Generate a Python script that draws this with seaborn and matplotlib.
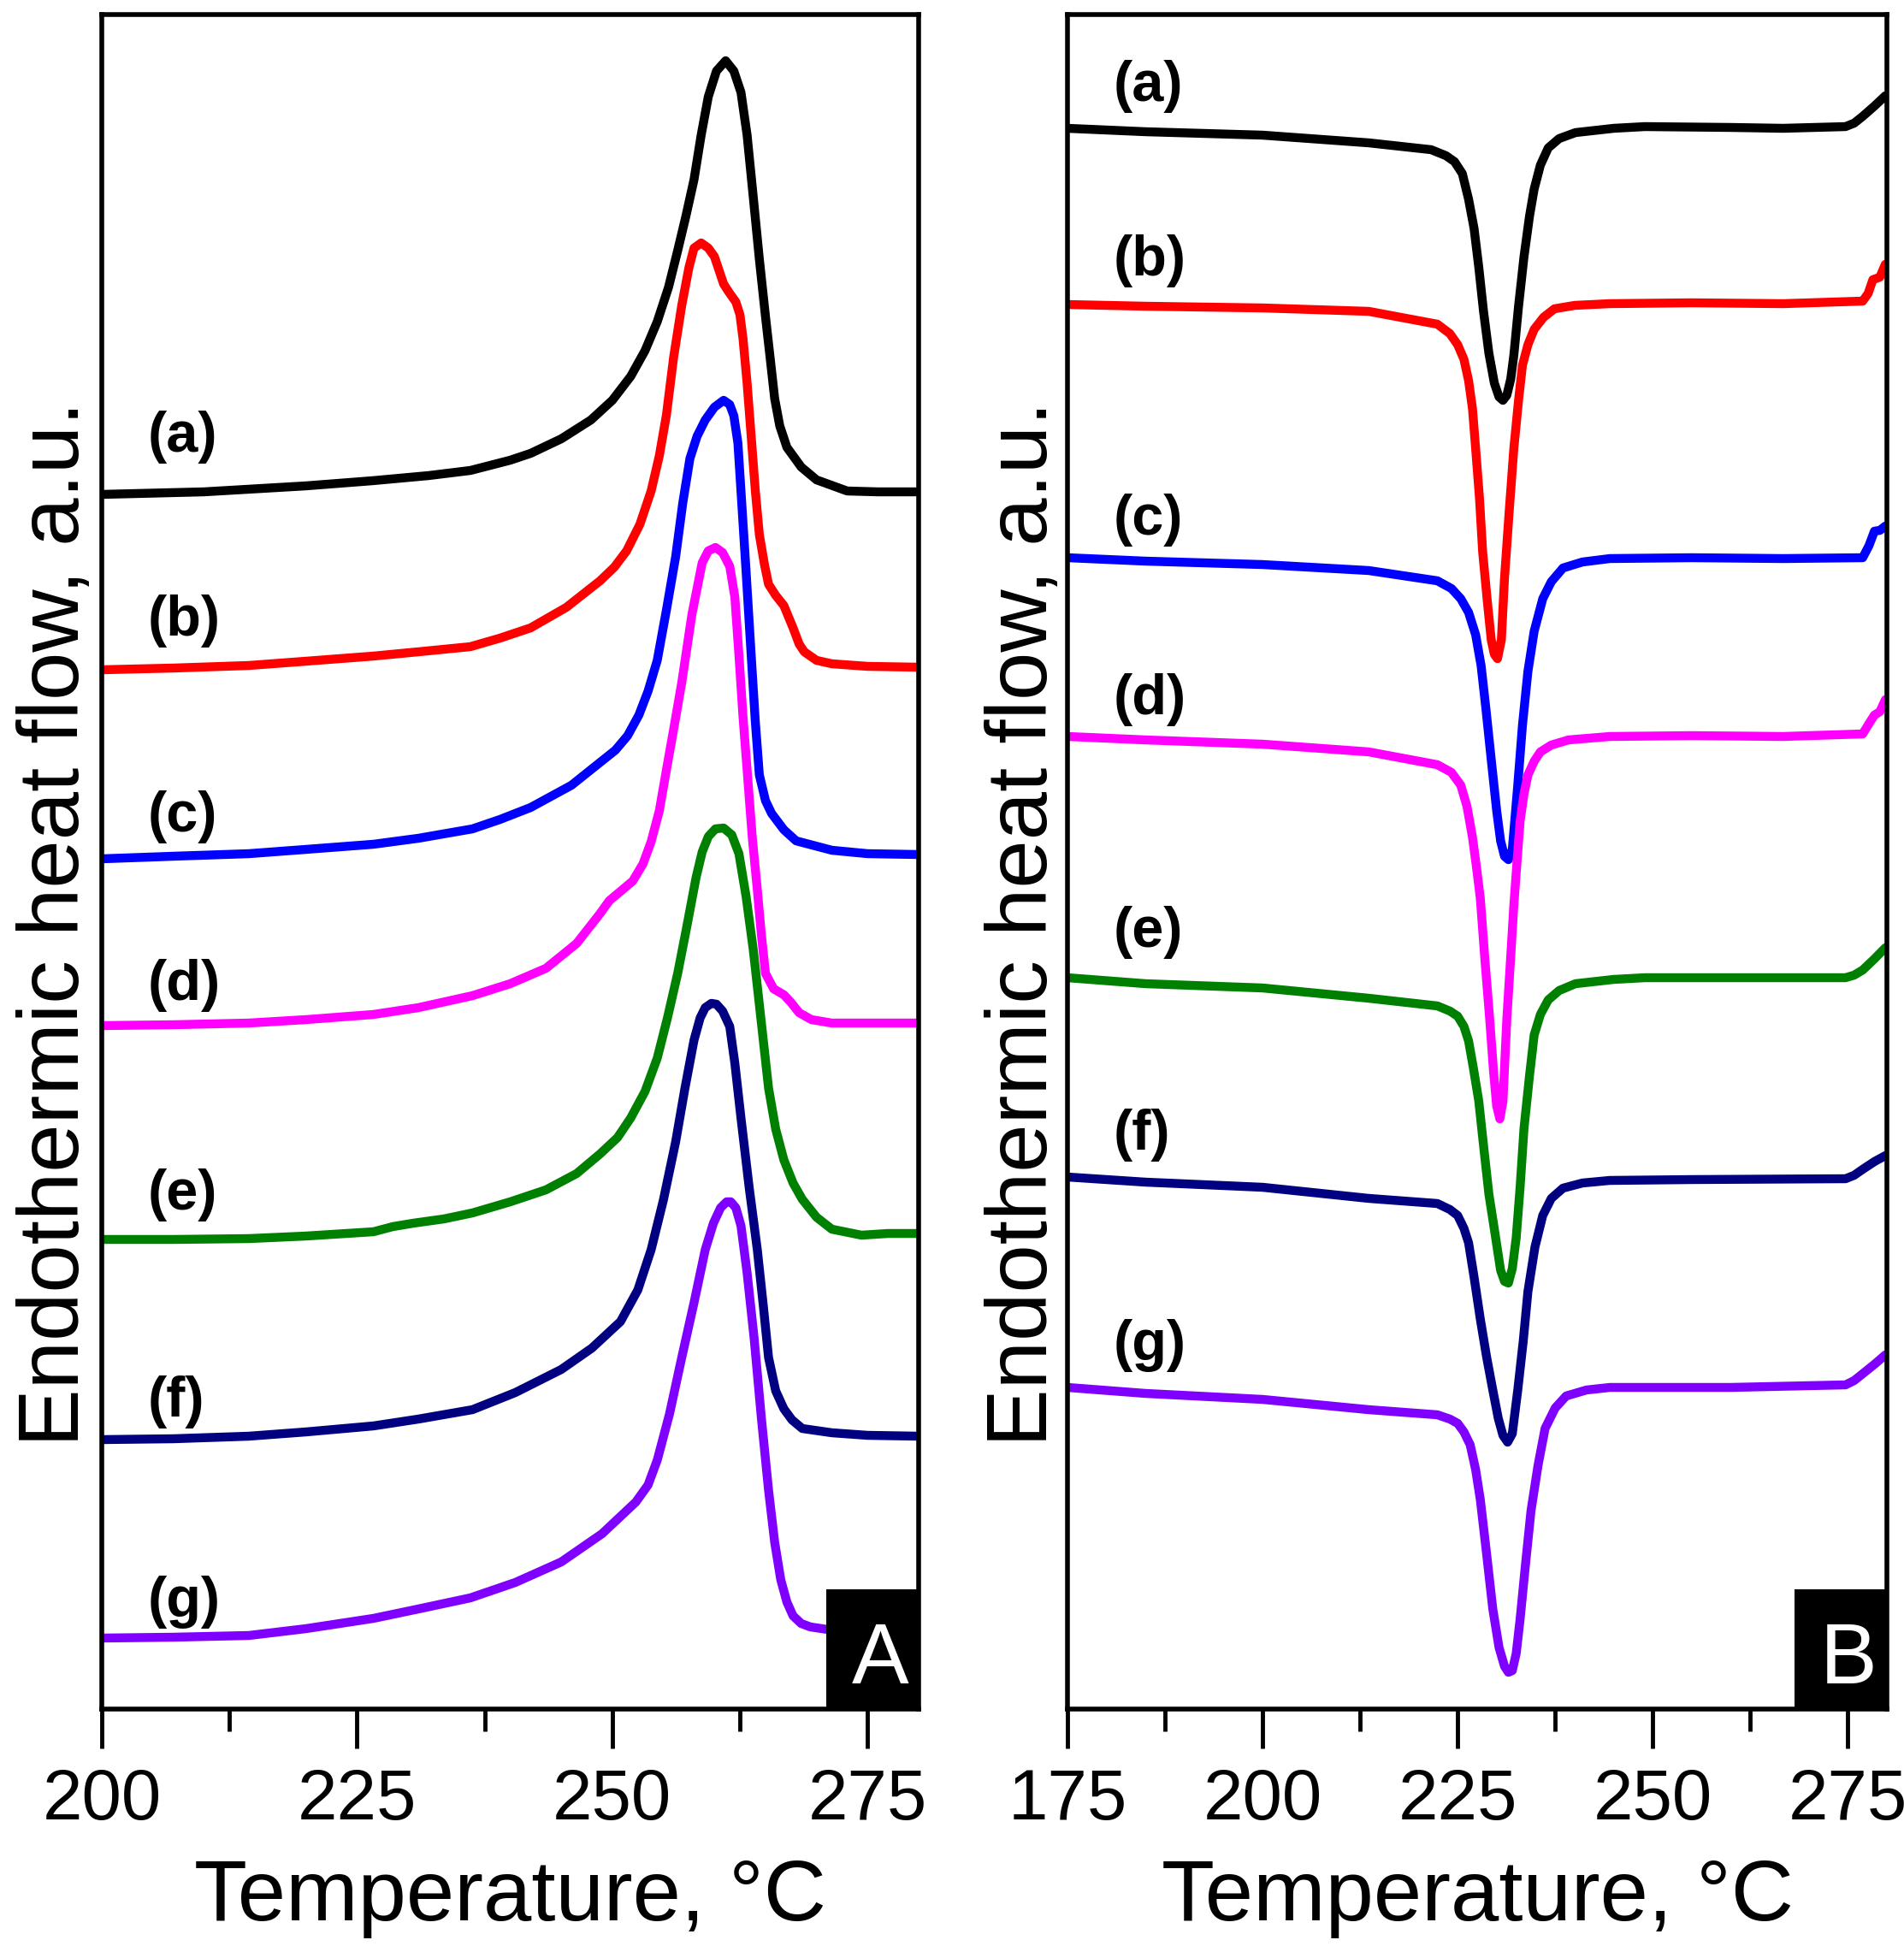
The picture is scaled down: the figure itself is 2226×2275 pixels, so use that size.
import numpy as np
import pandas as pd
import matplotlib
matplotlib.use("Agg")
import matplotlib.pyplot as plt
import seaborn as sns
from matplotlib.patches import Rectangle
from matplotlib.ticker import MultipleLocator

# ---------------- data: panel A (heating, melting endotherms) ----------------
A_a_T = [200, 210, 220, 226.5, 232, 236.1, 240, 242.0, 245, 247.9, 250, 251.8, 253.2, 254.4, 255.5, 256.4,
         257.2, 258.0, 258.7, 259.4, 260.2, 261.1, 261.9, 262.6, 263.2, 263.8, 264.4, 265.0, 265.5, 265.9,
         266.4, 267.1, 268.5, 270.0, 273.0, 276, 280]
A_a_y = [14.20, 14.23, 14.30, 14.36, 14.42, 14.48, 14.60, 14.68, 14.85, 15.07, 15.30, 15.58, 15.88, 16.22,
         16.62, 17.05, 17.45, 17.88, 18.40, 18.85, 19.15, 19.27, 19.15, 18.90, 18.40, 17.68, 16.95, 16.28,
         15.75, 15.32, 15.00, 14.75, 14.52, 14.37, 14.24, 14.23, 14.23]

A_b_T = [200, 207, 214.4, 220, 226.6, 231, 236.1, 239, 242.0, 245.5, 248.8, 250.2, 251.4, 252.7, 253.8,
         254.6, 255.3, 256.0, 256.8, 257.5, 258.0, 258.7, 259.4, 260.0, 260.9, 261.5, 262.1, 262.5, 262.8,
         263.2, 263.6, 264.0, 264.4, 264.9, 265.3, 266.0, 266.8, 267.7, 268.3, 268.8, 270.0, 271.5, 275, 280]
A_b_y = [12.15, 12.17, 12.20, 12.25, 12.31, 12.36, 12.42, 12.52, 12.64, 12.88, 13.19, 13.35, 13.54, 13.85,
         14.24, 14.65, 15.13, 15.80, 16.41, 16.85, 17.08, 17.14, 17.08, 16.98, 16.66, 16.55, 16.45, 16.30,
         16.02, 15.50, 14.88, 14.25, 13.73, 13.38, 13.15, 13.02, 12.90, 12.64, 12.45, 12.36, 12.26, 12.22,
         12.19, 12.18]

A_c_T = [200, 207, 214.4, 220, 226.6, 231, 236.3, 239, 242.0, 246, 250.3, 251.5, 252.6, 253.5, 254.4,
         255.3, 256.2, 256.9, 257.6, 258.3, 259.1, 260.0, 260.9, 261.5, 261.9, 262.3, 262.6, 263.1, 263.6,
         264.0, 264.4, 265.0, 265.6, 266.8, 268.0, 271.5, 275, 280]
A_c_y = [9.94, 9.97, 10.00, 10.05, 10.11, 10.18, 10.29, 10.40, 10.54, 10.80, 11.21, 11.38, 11.62, 11.90,
         12.26, 12.85, 13.47, 14.10, 14.62, 14.88, 15.07, 15.22, 15.30, 15.25, 15.12, 14.80, 14.24, 13.30,
         12.32, 11.55, 10.92, 10.62, 10.47, 10.28, 10.15, 10.04, 10.00, 9.99]

A_d_T = [200, 207, 214.4, 220, 226.6, 231, 236.3, 240, 243.5, 246.5, 248.8, 249.7, 251.0, 252.0, 253.0,
         253.8, 254.6, 255.3, 256.0, 256.8, 257.8, 258.8, 259.4, 260.1, 260.8, 261.5, 262.0, 262.4, 262.8,
         263.2, 263.7, 264.2, 264.6, 265.0, 265.8, 266.8, 267.5, 268.3, 269.5, 271.5, 275, 280]
A_d_y = [7.99, 8.00, 8.02, 8.06, 8.12, 8.20, 8.34, 8.48, 8.66, 8.95, 9.30, 9.45, 9.58, 9.68, 9.88, 10.14,
         10.50, 10.98, 11.45, 12.00, 12.80, 13.40, 13.54, 13.58, 13.52, 13.36, 13.00, 12.32, 11.60, 10.98,
         10.20, 9.58, 9.05, 8.60, 8.42, 8.35, 8.26, 8.14, 8.06, 8.02, 8.02, 8.02]

A_e_T = [200, 207, 214.4, 220, 226.6, 228.5, 230.5, 233.5, 236.3, 240, 243.5, 246.5, 248.8, 250.5, 251.8,
         253.2, 254.4, 255.4, 256.4, 257.3, 258.2, 258.8, 259.4, 260.1, 260.9, 261.7, 262.4, 263.1, 263.8,
         264.6, 265.3, 266.0, 266.8, 267.7, 268.6, 270.0, 271.5, 274.4, 277, 280]
A_e_y = [5.49, 5.49, 5.50, 5.53, 5.58, 5.64, 5.68, 5.73, 5.80, 5.93, 6.07, 6.26, 6.49, 6.68, 6.91, 7.22,
         7.61, 8.08, 8.60, 9.15, 9.72, 10.02, 10.20, 10.29, 10.30, 10.22, 10.00, 9.50, 8.88, 8.02, 7.26,
         6.78, 6.42, 6.15, 5.96, 5.75, 5.61, 5.54, 5.56, 5.56]

A_f_T = [200, 207, 214.4, 220, 226.6, 231, 236.3, 240.5, 245.0, 248, 250.8, 252.5, 253.8, 255.0, 256.2,
         257.1, 258.0, 258.6, 259.1, 259.7, 260.2, 260.8, 261.5, 262.0, 262.6, 263.4, 264.2, 264.8, 265.3,
         266.0, 266.8, 267.6, 268.6, 271.5, 275, 280]
A_f_y = [3.15, 3.16, 3.19, 3.24, 3.31, 3.39, 3.50, 3.70, 3.97, 4.22, 4.53, 4.90, 5.37, 5.95, 6.63, 7.25,
         7.82, 8.08, 8.20, 8.25, 8.24, 8.16, 7.98, 7.55, 6.91, 6.10, 5.37, 4.70, 4.11, 3.72, 3.51, 3.38,
         3.28, 3.23, 3.20, 3.19]

A_g_T = [200, 207, 214.4, 220, 226.6, 231, 236.1, 240.5, 245.0, 249, 252.3, 253.5, 254.4, 255.6, 256.8,
         258.0, 259.1, 259.9, 260.6, 261.2, 261.6, 262.1, 262.6, 263.2, 263.9, 264.6, 265.3, 265.9, 266.5,
         267.1, 267.7, 268.5, 269.4, 271.1, 275, 280]
A_g_y = [0.83, 0.84, 0.86, 0.94, 1.06, 1.17, 1.30, 1.48, 1.72, 2.05, 2.42, 2.62, 2.91, 3.45, 4.11, 4.75,
         5.37, 5.68, 5.86, 5.93, 5.93, 5.86, 5.65, 5.10, 4.32, 3.40, 2.56, 1.95, 1.51, 1.25, 1.09, 1.00,
         0.96, 0.93, 0.90, 0.88]

# ---------------- data: panel B (cooling, crystallization exotherms) ----------------
B_a_T = [175, 185, 200, 213.6, 221.6, 223.5, 224.6, 225.6, 226.4, 227.1, 227.7, 228.3, 229.0, 229.7, 230.3,
         230.8, 231.3, 231.8, 232.2, 232.8, 233.5, 234.2, 234.8, 235.6, 236.6, 238, 240.1, 245, 249.0, 260,
         266.7, 274.7, 275.8, 276.9, 278.4, 279.8]
B_a_y = [18.48, 18.44, 18.40, 18.31, 18.23, 18.16, 18.09, 17.95, 17.65, 17.31, 16.86, 16.35, 15.85, 15.50,
         15.34, 15.30, 15.36, 15.55, 15.83, 16.40, 16.98, 17.45, 17.77, 18.05, 18.25, 18.36, 18.43, 18.48,
         18.50, 18.49, 18.48, 18.50, 18.54, 18.62, 18.74, 18.86]

B_b_T = [175, 185, 200, 213.6, 222.4, 224.0, 225.0, 225.8, 226.4, 226.9, 227.3, 227.8, 228.2, 228.8, 229.3,
         229.7, 230.1, 230.6, 231.0, 231.6, 232.2, 232.8, 233.3, 234.0, 234.8, 236.0, 237.4, 240, 244.5, 255,
         266.7, 276.9, 277.6, 278.2, 279.1, 279.8]
B_b_y = [16.42, 16.40, 16.38, 16.34, 16.19, 16.08, 15.95, 15.78, 15.53, 15.20, 14.74, 14.15, 13.53, 12.95,
         12.50, 12.33, 12.28, 12.50, 13.22, 14.00, 14.74, 15.30, 15.71, 15.95, 16.13, 16.27, 16.37, 16.41,
         16.43, 16.44, 16.43, 16.46, 16.55, 16.71, 16.74, 16.89]

B_c_T = [175, 185, 200, 213.6, 222.4, 224.2, 225.4, 226.4, 227.3, 228.0, 228.6, 229.3, 230.0, 230.5, 231.0,
         231.5, 232.0, 232.7, 233.3, 234.0, 234.8, 235.9, 237, 238.5, 241, 244.5, 255, 266.7, 276.9, 277.7,
         278.4, 279.1, 279.8]
B_c_y = [13.46, 13.42, 13.38, 13.31, 13.19, 13.10, 12.98, 12.82, 12.56, 12.20, 11.71, 11.10, 10.50, 10.15,
         9.97, 9.93, 10.05, 10.80, 11.50, 12.13, 12.60, 12.98, 13.18, 13.34, 13.41, 13.45, 13.46, 13.45,
         13.46, 13.60, 13.77, 13.78, 13.83]

B_d_T = [175, 185, 200, 213.6, 222.4, 224.2, 225.4, 226.2, 226.9, 227.4, 227.9, 228.5, 229.1, 229.6, 230.0,
         230.4, 230.8, 231.3, 231.8, 232.2, 232.6, 233.0, 233.5, 234.0, 234.8, 235.6, 237, 239.2, 244.5, 255,
         266.7, 276.9, 277.7, 278.4, 279.1, 279.8]
B_d_y = [11.37, 11.33, 11.28, 11.19, 11.04, 10.95, 10.80, 10.55, 10.19, 9.85, 9.48, 8.75, 8.07, 7.45, 7.05,
         6.90, 7.10, 8.07, 8.80, 9.40, 9.90, 10.38, 10.70, 10.92, 11.08, 11.19, 11.27, 11.33, 11.37, 11.38,
         11.37, 11.40, 11.52, 11.62, 11.66, 11.80]

B_e_T = [175, 185, 200, 213.6, 222.4, 224.0, 225.0, 225.8, 226.4, 227.0, 227.7, 228.3, 229.0, 229.8, 230.5,
         231.0, 231.5, 232.0, 232.5, 233.0, 233.5, 234.2, 234.8, 235.6, 236.6, 238, 240.1, 245, 249.0, 260,
         274.7, 275.8, 276.9, 278.4, 279.8]
B_e_y = [8.55, 8.48, 8.43, 8.31, 8.22, 8.16, 8.10, 7.98, 7.81, 7.50, 7.11, 6.60, 6.02, 5.55, 5.13, 5.00,
         4.98, 5.15, 5.51, 6.10, 6.79, 7.40, 7.88, 8.12, 8.29, 8.40, 8.48, 8.53, 8.55, 8.55, 8.55, 8.58,
         8.64, 8.77, 8.90]

B_f_T = [175, 185, 200, 213.6, 222.4, 224.0, 225.0, 225.8, 226.4, 227.1, 227.9, 228.7, 229.5, 230.2, 230.8,
         231.4, 232.0, 232.7, 233.4, 234.0, 234.9, 235.9, 237, 238.5, 241, 244.5, 255, 274.7, 275.8, 276.9,
         278.4, 279.8]
B_f_y = [6.22, 6.16, 6.10, 5.97, 5.91, 5.84, 5.77, 5.62, 5.45, 5.05, 4.56, 4.12, 3.73, 3.40, 3.20, 3.12,
         3.22, 3.73, 4.30, 4.88, 5.40, 5.77, 5.97, 6.09, 6.15, 6.18, 6.19, 6.20, 6.24, 6.31, 6.40, 6.47]

B_g_T = [175, 185, 200, 213.6, 222.4, 224.0, 225.0, 225.8, 226.6, 227.3, 227.9, 228.7, 229.5, 230.3, 231.0,
         231.5, 232.0, 232.5, 233.0, 233.7, 234.4, 235.3, 236.2, 237.5, 238.9, 241.5, 244.5, 260, 274.7,
         275.8, 276.9, 278.4, 279.8]
B_g_y = [3.76, 3.69, 3.62, 3.50, 3.44, 3.39, 3.34, 3.24, 3.09, 2.80, 2.45, 1.82, 1.17, 0.72, 0.50, 0.43,
         0.45, 0.65, 1.05, 1.70, 2.32, 2.85, 3.28, 3.52, 3.66, 3.73, 3.76, 3.76, 3.79, 3.84, 3.92, 4.03, 4.14]

samples = ["(a)", "(b)", "(c)", "(d)", "(e)", "(f)", "(g)"]
colors = ["#000000", "#FF0000", "#0000FF", "#FF00FF", "#008000", "#000080", "#8000FF"]

# curve label positions (temperature of left edge, vertical centre)
A_label_T = 204.5
A_label_y = [14.87, 12.72, 10.43, 8.46, 6.01, 3.59, 1.25]
B_label_T = 180.9
B_label_y = [18.97, 16.93, 13.90, 11.80, 9.08, 6.71, 4.25]

xlabel = "Temperature, \u00b0C"
ylabel = "Endothermic heat flow, a.u."
A_xlim = (200, 280)
B_xlim = (175, 280)
ylim = (0, 19.81)

# ---------------- styling ----------------
sns.set_style("white")
plt.rcParams["font.family"] = ["Liberation Sans", "DejaVu Sans"]
plt.rcParams["lines.solid_joinstyle"] = "round"
plt.rcParams["lines.solid_capstyle"] = "round"
plt.rcParams["text.color"] = "black"
plt.rcParams["axes.labelcolor"] = "black"
plt.rcParams["xtick.color"] = "black"
plt.rcParams["ytick.color"] = "black"


def long_df(Ts, ys):
    rows = []
    for name, T, y in zip(samples, Ts, ys):
        rows.append(pd.DataFrame({"T": T, "signal": y, "sample": name}))
    return pd.concat(rows, ignore_index=True)


dfA = long_df([A_a_T, A_b_T, A_c_T, A_d_T, A_e_T, A_f_T, A_g_T],
              [A_a_y, A_b_y, A_c_y, A_d_y, A_e_y, A_f_y, A_g_y])
dfB = long_df([B_a_T, B_b_T, B_c_T, B_d_T, B_e_T, B_f_T, B_g_T],
              [B_a_y, B_b_y, B_c_y, B_d_y, B_e_y, B_f_y, B_g_y])

W, H = 2226, 2275
fig = plt.figure(figsize=(W / 100, H / 100), dpi=100)
axA = fig.add_axes([119 / W, (H - 1998) / H, 955 / W, 1981 / H])
axB = fig.add_axes([1248 / W, (H - 1998) / H, 958 / W, 1981 / H])

palette = dict(zip(samples, colors))

for ax, df, xlim, labT, laby, panel, ylab_x in [
    (axA, dfA, A_xlim, A_label_T, A_label_y, "A", -0.0283),
    (axB, dfB, B_xlim, B_label_T, B_label_y, "B", -0.025),
]:
    sns.lineplot(data=df, x="T", y="signal", hue="sample", palette=palette,
                 estimator=None, sort=False, linewidth=7.5, legend=False, ax=ax)
    ax.set_xlim(*xlim)
    ax.set_ylim(*ylim)
    ax.set_yticks([])
    ax.xaxis.set_major_locator(MultipleLocator(25))
    ax.xaxis.set_minor_locator(MultipleLocator(12.5))
    ax.tick_params(axis="x", which="both", direction="out", bottom=True, top=False,
                   width=3.5, color="black", labelcolor="black")
    ax.tick_params(axis="x", which="major", length=33, labelsize=60, pad=16)
    ax.tick_params(axis="x", which="minor", length=19)
    ax.tick_params(axis="y", left=False, right=False, labelleft=False)
    for s in ax.spines.values():
        s.set_visible(True)
        s.set_color("black")
        s.set_linewidth(4)

    ax.set_xlabel(xlabel, fontsize=73, color="black")
    ax.xaxis.set_label_coords(0.5, -0.1247)
    ax.xaxis.label.set_va("baseline")
    ax.set_ylabel(ylabel, fontsize=73, color="black")
    ax.yaxis.set_label_coords(ylab_x, 0.4634)
    ax.yaxis.label.set_va("baseline")

    for name, yy in zip(samples, laby):
        ax.text(labT, yy, name, fontsize=48, fontweight="bold", ha="left", va="center",
                color="black", zorder=4)

    ax.add_patch(Rectangle((0.887, 0.0), 0.113, 0.0707, transform=ax.transAxes,
                           facecolor="black", edgecolor="none", zorder=5, clip_on=False))
    ax.text(0.953, 0.0151, panel, transform=ax.transAxes, color="white", fontsize=72,
            ha="center", va="baseline", zorder=6)

fig.savefig("out.png", dpi=100, facecolor="white")
